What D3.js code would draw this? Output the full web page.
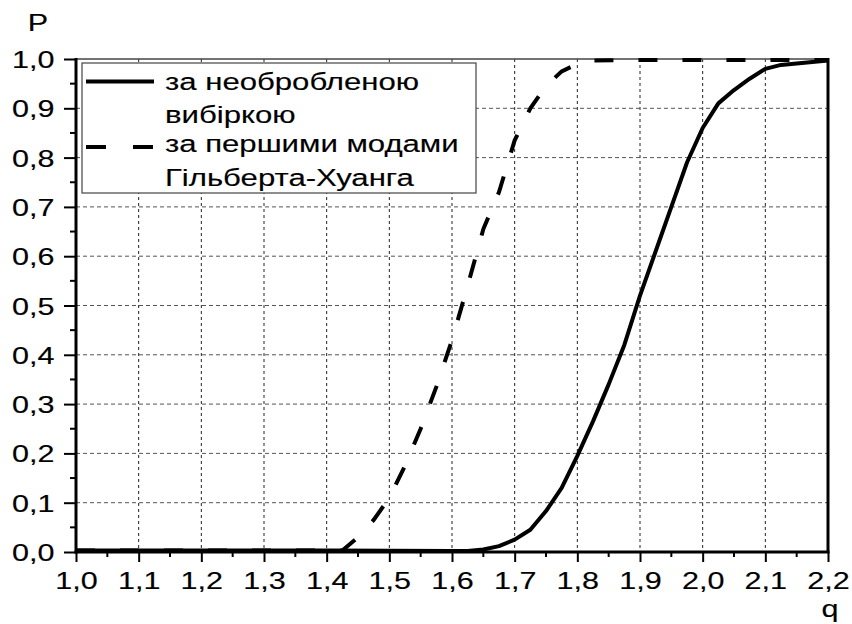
<!DOCTYPE html>
<html><head><meta charset="utf-8">
<script src="https://cdn.jsdelivr.net/npm/d3@7"></script>
<style>body{margin:0;background:#fff;} svg{display:block;} text{font-family:Arial,"Liberation Sans",sans-serif;fill:#000;stroke:#000;stroke-width:0.15px;}</style>
</head><body>
<svg id="c" width="852" height="624"></svg>
<script>
const xTicks = [1.0,1.1,1.2,1.3,1.4,1.5,1.6,1.7,1.8,1.9,2.0,2.1,2.2];
const xTickLabels = ["1,0","1,1","1,2","1,3","1,4","1,5","1,6","1,7","1,8","1,9","2,0","2,1","2,2"];
const yTicks = [0,0.1,0.2,0.3,0.4,0.5,0.6,0.7,0.8,0.9,1.0];
const yTickLabels = ["0,0","0,1","0,2","0,3","0,4","0,5","0,6","0,7","0,8","0,9","1,0"];
const seriesNames = ["за необробленою\nвибіркою", "за першими модами\nГільберта-Хуанга"];

const rawQ = [1.0,1.2,1.4,1.6,1.625,1.65,1.675,1.70,1.725,1.75,1.775,1.80,1.825,1.85,1.875,1.90,1.925,1.95,1.975,2.00,2.025,2.05,2.075,2.10,2.125,2.15,2.175,2.20];
const rawP = [0.003,0.003,0.003,0.002,0.002,0.005,0.012,0.025,0.045,0.083,0.13,0.195,0.265,0.34,0.42,0.52,0.61,0.70,0.79,0.86,0.91,0.937,0.96,0.98,0.988,0.991,0.994,0.997];

const hhQ = [1.0,1.2,1.4,1.425,1.45,1.475,1.50,1.525,1.55,1.575,1.60,1.625,1.65,1.675,1.70,1.725,1.75,1.775,1.80,1.825,1.9,2.0,2.1,2.2];
const hhP = [0.003,0.003,0.003,0.003,0.03,0.065,0.11,0.175,0.25,0.335,0.43,0.54,0.655,0.73,0.835,0.90,0.945,0.975,0.99,0.997,0.998,0.998,0.998,0.998];

const SX = 1.3; // horizontal stretch of text in the reference
const svg = d3.select("#c");
const L = 76, R = 828, T = 59, B = 552;
const x = d3.scaleLinear().domain([1.0,2.2]).range([L,R]);
const y = d3.scaleLinear().domain([0,1]).range([B,T]);

function stext(g, tx, ty, str, size, anchor, sx){
  return g.append("text").attr("transform",`translate(${tx},${ty}) scale(${sx||SX},1)`)
    .attr("text-anchor",anchor||"start").style("font-size",size+"px").text(str);
}

// grid
const grid = svg.append("g");
grid.selectAll(".gv").data(xTicks.slice(1,-1)).enter().append("line")
  .attr("x1",d=>x(d)).attr("x2",d=>x(d)).attr("y1",T).attr("y2",B)
  .attr("stroke","#222").attr("stroke-width",1).attr("stroke-dasharray","3,3");
grid.selectAll(".gh").data(yTicks.slice(1,-1)).enter().append("line")
  .attr("y1",d=>y(d)).attr("y2",d=>y(d)).attr("x1",L).attr("x2",R)
  .attr("stroke","#555").attr("stroke-width",1).attr("stroke-dasharray","4,3");

// top border thin
svg.append("line").attr("x1",L).attr("x2",R).attr("y1",T).attr("y2",T).attr("stroke","#444").attr("stroke-width",1.5);
// right border
svg.append("line").attr("x1",R).attr("x2",R).attr("y1",T-1).attr("y2",B).attr("stroke","#000").attr("stroke-width",3);

// axes
const xAxis = d3.axisBottom(x).tickValues(xTicks).tickSize(10).tickSizeOuter(0).tickFormat((d,i)=>xTickLabels[i]).tickPadding(8);
const gx = svg.append("g").attr("transform",`translate(0,${B})`).call(xAxis);
gx.select(".domain").remove();
gx.selectAll(".tick line").attr("stroke","#000").attr("stroke-width",2);
gx.selectAll(".tick text").style("font-size","23.5px").attr("font-family","Arial, 'Liberation Sans', sans-serif").attr("fill","#000")
  .attr("y",0).attr("dy",0).attr("transform",`translate(0,37.3) scale(${SX},1)`);
const xMinor = d3.range(1.05,2.2,0.1);
svg.append("g").selectAll("line").data(xMinor).enter().append("line")
  .attr("x1",d=>x(d)).attr("x2",d=>x(d)).attr("y1",B).attr("y2",B+5).attr("stroke","#000").attr("stroke-width",2);

const yAxis = d3.axisLeft(y).tickValues(yTicks).tickSize(12).tickSizeOuter(0).tickFormat((d,i)=>yTickLabels[i]).tickPadding(10);
const gy = svg.append("g").attr("transform",`translate(${L},0)`).call(yAxis);
gy.select(".domain").remove();
gy.selectAll(".tick line").attr("stroke","#000").attr("stroke-width",2);
gy.selectAll(".tick text").style("font-size","23.5px").attr("font-family","Arial, 'Liberation Sans', sans-serif").attr("fill","#000")
  .attr("x",0).attr("dy",0).attr("y",0).attr("transform",`translate(-21.5,8.5) scale(${SX},1)`);
const yMinor = d3.range(0.05,1.0,0.1);
svg.append("g").selectAll("line").data(yMinor).enter().append("line")
  .attr("y1",d=>y(d)).attr("y2",d=>y(d)).attr("x1",L-6).attr("x2",L).attr("stroke","#000").attr("stroke-width",2);

// axis lines
svg.append("line").attr("x1",L).attr("x2",L).attr("y1",T-1).attr("y2",B+1.5).attr("stroke","#000").attr("stroke-width",3);
svg.append("line").attr("x1",L-1.5).attr("x2",R+1.5).attr("y1",B).attr("y2",B).attr("stroke","#000").attr("stroke-width",3);

// curves
const line = d3.line().x(d=>x(d[0])).y(d=>y(d[1]));
svg.append("path").datum(rawQ.map((q,i)=>[q,rawP[i]])).attr("d",line)
  .attr("fill","none").attr("stroke","#000").attr("stroke-width",4).attr("stroke-linejoin","round");
svg.append("path").datum(hhQ.map((q,i)=>[q,hhP[i]])).attr("d",line)
  .attr("fill","none").attr("stroke","#000").attr("stroke-width",4).attr("stroke-dasharray","19,25");

// axis titles
stext(svg, 38, 31, "P", 23.5, "middle");
stext(svg, 830, 617, "q", 23.5, "middle");

// legend
const lg = svg.append("g");
lg.append("rect").attr("x",82).attr("y",63).attr("width",394).attr("height",130)
  .attr("fill","#fff").attr("stroke","#444").attr("stroke-width",1.2);
const rows = [{y:81.5, dash:null, lines:seriesNames[0].split("\n"), base:[89.5,123]},
              {y:147, dash:"20,27", lines:seriesNames[1].split("\n"), base:[152,185.5]}];
rows.forEach(r=>{
  lg.append("line").attr("x1",86).attr("x2",154).attr("y1",r.y).attr("y2",r.y)
    .attr("stroke","#000").attr("stroke-width",4).attr("stroke-dasharray",r.dash);
  r.lines.forEach((t,j)=>{ stext(lg, 165, r.base[j], t, 24.5, "start", 1.27); });
});
</script>
</body></html>
